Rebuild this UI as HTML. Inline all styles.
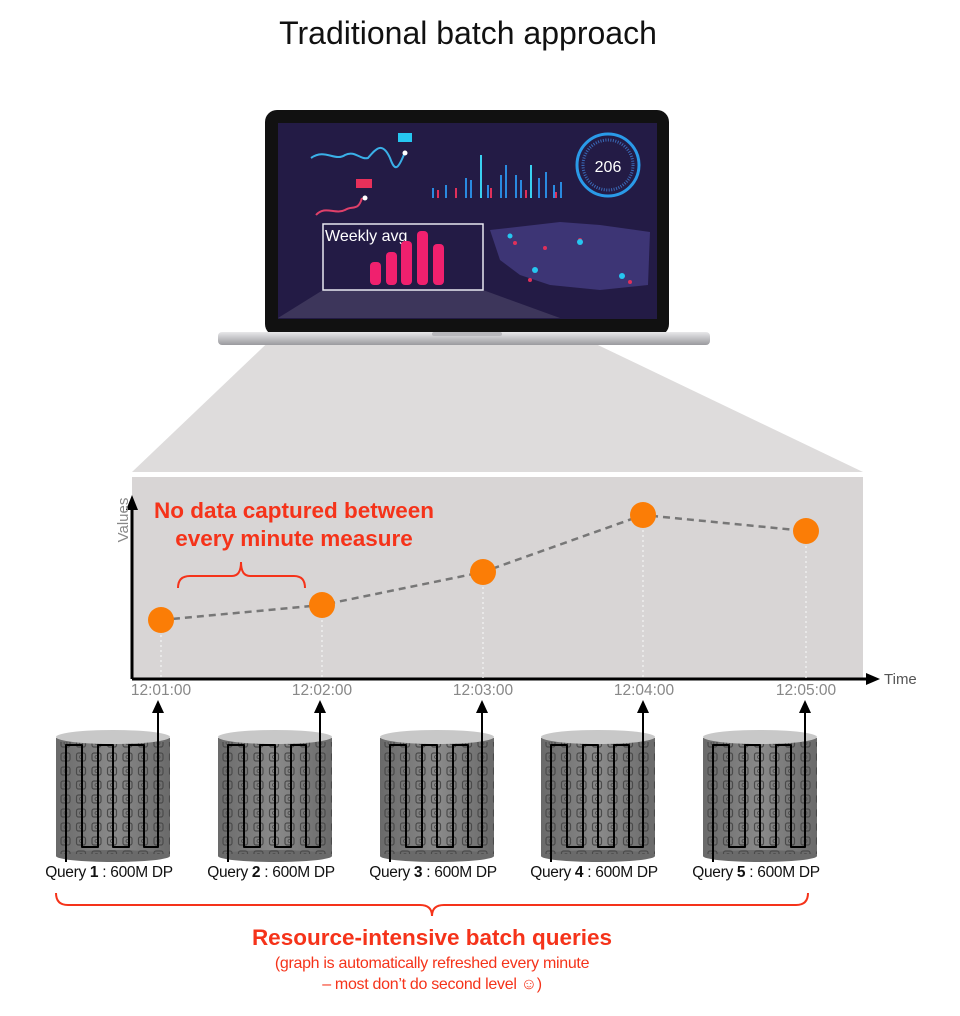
<!DOCTYPE html>
<html><head><meta charset="utf-8"><style>
html,body{margin:0;padding:0;background:#fff;}
svg{display:block;font-family:"Liberation Sans",Arial,sans-serif;}
</style></head><body>
<svg width="960" height="1016" viewBox="0 0 960 1016" xmlns="http://www.w3.org/2000/svg">
<defs>
<linearGradient id="cyl" x1="0" x2="1" y1="0" y2="0">
<stop offset="0" stop-color="#6a6a6a"/><stop offset="0.5" stop-color="#8a8a8a"/><stop offset="1" stop-color="#6a6a6a"/>
</linearGradient>
<linearGradient id="base" x1="0" x2="0" y1="0" y2="1">
<stop offset="0" stop-color="#e8e8ea"/><stop offset="1" stop-color="#9a9a9e"/>
</linearGradient>
<pattern id="dots" width="15.5" height="14" patternUnits="userSpaceOnUse" x="58" y="750">
<rect x="3" y="3" width="9" height="8" rx="2" fill="none" stroke="#4a4a4a" stroke-width="1.2"/>
<circle cx="7.5" cy="7" r="1.5" fill="none" stroke="#4a4a4a" stroke-width="0.8"/>
</pattern>
</defs>
<text x="468" y="44" font-size="32" text-anchor="middle" fill="#111">Traditional batch approach</text>

<polygon points="323,290 483,290 863,472 132,472" fill="#dedcdc"/>

<rect x="265" y="110" width="404" height="226" rx="12" fill="#111"/>
<rect x="278" y="123" width="379" height="196" fill="#231b45"/>
<rect x="218" y="332" width="492" height="13" rx="4" fill="url(#base)"/>
<rect x="432" y="332" width="70" height="4" rx="2" fill="#b8b8bc"/>
<path d="M311,158 C325,148 335,162 345,155 C355,150 360,160 368,158 C375,150 382,140 390,158 C395,172 398,170 405,152" stroke="#3ab0e8" stroke-width="2" fill="none"/>
<rect x="398" y="133" width="14" height="9" fill="#26c6f0"/>
<circle cx="405" cy="153" r="2.5" fill="#fff"/>
<path d="M316,215 C325,205 335,215 345,210 C352,205 358,212 362,198" stroke="#e0406a" stroke-width="2" fill="none"/>
<rect x="356" y="179" width="16" height="9" fill="#e8305a"/>
<circle cx="365" cy="198" r="2.5" fill="#fff"/>
<g fill="#2a8ae0">
<rect x="432" y="188" width="2" height="10"/><rect x="445" y="185" width="2" height="13"/><rect x="465" y="178" width="2" height="20"/><rect x="470" y="180" width="2" height="18"/><rect x="480" y="155" width="2" height="43" fill="#3ad0f0"/><rect x="487" y="185" width="2" height="13"/><rect x="500" y="175" width="2" height="23"/><rect x="505" y="165" width="2" height="33"/><rect x="515" y="175" width="2" height="23"/><rect x="520" y="180" width="2" height="18"/><rect x="530" y="165" width="2" height="33" fill="#3ad0f0"/><rect x="538" y="178" width="2" height="20"/><rect x="545" y="172" width="2" height="26"/><rect x="553" y="185" width="2" height="13"/><rect x="560" y="182" width="2" height="16"/>
</g>
<g fill="#e0305a"><rect x="437" y="190" width="2" height="8"/><rect x="455" y="188" width="2" height="10"/><rect x="490" y="188" width="2" height="10"/><rect x="525" y="190" width="2" height="8"/><rect x="555" y="192" width="2" height="6"/></g>
<circle cx="608" cy="165" r="31" fill="none" stroke="#2a9ae8" stroke-width="3"/>
<circle cx="608" cy="165" r="25" fill="none" stroke="#3a6ab8" stroke-width="3" stroke-dasharray="1 1.5"/>
<text x="608" y="172" font-size="16" text-anchor="middle" fill="#fff">206</text>
<path d="M490,230 L560,222 L600,225 L650,232 L648,285 L600,290 L550,285 L520,275 L500,260 Z" fill="#3d3575"/>
<g fill="#e0305a"><circle cx="515" cy="243" r="2"/><circle cx="545" cy="248" r="2"/><circle cx="580" cy="240" r="2"/><circle cx="630" cy="282" r="2"/><circle cx="530" cy="280" r="2"/></g>
<g fill="#26c6f0"><circle cx="510" cy="236" r="2.5"/><circle cx="580" cy="242" r="3"/><circle cx="535" cy="270" r="3"/><circle cx="622" cy="276" r="3"/></g>
<rect x="323" y="224" width="160" height="66" fill="#231b45" stroke="#e8e8f0" stroke-width="1.5"/>
<text x="325" y="241" font-size="16" fill="#fff">Weekly avg</text>
<g fill="#f0206e"><rect x="370" y="262" width="11" height="23" rx="4"/><rect x="386" y="252" width="11" height="33" rx="4"/><rect x="401" y="241" width="11" height="44" rx="4"/><rect x="417" y="231" width="11" height="54" rx="4"/><rect x="433" y="244" width="11" height="41" rx="4"/></g>
<polygon points="323,290 483,290 560,318 278,318" fill="#fff" opacity="0.12"/>

<rect x="132" y="477" width="731" height="202" fill="#d8d5d5"/>
<line x1="132" y1="679" x2="870" y2="679" stroke="#000" stroke-width="3"/>
<polygon points="866,673 880,679 866,685" fill="#000"/>
<line x1="132" y1="679" x2="132" y2="505" stroke="#000" stroke-width="3"/>
<polygon points="126,510 132,495 138,510" fill="#000"/>
<text x="128" y="520" font-size="15" fill="#888" transform="rotate(-90 128 520)" text-anchor="middle">Values</text>
<text x="884" y="684" font-size="15" fill="#555">Time</text>
<g stroke="#f4f4f4" stroke-width="1.2" stroke-dasharray="2 3">
<line x1="161" y1="620" x2="161" y2="678"/><line x1="322" y1="605" x2="322" y2="678"/><line x1="483" y1="572" x2="483" y2="678"/><line x1="643" y1="515" x2="643" y2="678"/><line x1="806" y1="531" x2="806" y2="678"/>
</g>
<polyline points="161,620 322,605 483,572 643,515 806,531" fill="none" stroke="#777" stroke-width="2.5" stroke-dasharray="7 5"/>
<g fill="#fb7d06"><circle cx="161" cy="620" r="13"/><circle cx="322" cy="605" r="13"/><circle cx="483" cy="572" r="13"/><circle cx="643" cy="515" r="13"/><circle cx="806" cy="531" r="13"/></g>
<text x="294" y="518" font-size="22.5" font-weight="bold" fill="#f5331a" text-anchor="middle">No data captured between</text>
<text x="294" y="546" font-size="22.5" font-weight="bold" fill="#f5331a" text-anchor="middle">every minute measure</text>
<path d="M178,588 Q178,576 190,576 L232,576 Q241,576 241,562 Q241,576 250,576 L294,576 Q305,576 305,588" fill="none" stroke="#f5331a" stroke-width="2"/>
<g font-size="15.5" fill="#888" text-anchor="middle">
<text x="161" y="695">12:01:00</text><text x="322" y="695">12:02:00</text><text x="483" y="695">12:03:00</text><text x="644" y="695">12:04:00</text><text x="806" y="695">12:05:00</text>
</g>

<g id="c1">
<rect x="56" y="738" width="114" height="118" fill="url(#cyl)"/>
<ellipse cx="113" cy="856" rx="57" ry="6" fill="#6a6a6a"/>
<rect x="56" y="742" width="114" height="112" fill="url(#dots)"/>
<ellipse cx="113" cy="737" rx="57" ry="7" fill="#c8c8c8"/>
<path d="M66,862 L66,745 L82,745 L82,847 L98,847 L98,745 L113,745 L113,847 L129,847 L129,745 L144,745 L144,847 L158,847 L158,712" fill="none" stroke="#000" stroke-width="2" stroke-linejoin="round"/>
<polygon points="152,713 158,700 164,713" fill="#000"/>
</g>
<use href="#c1" x="162"/>
<use href="#c1" x="324"/>
<use href="#c1" x="485"/>
<use href="#c1" x="647"/>
<g font-size="15.5" fill="#111" text-anchor="middle" letter-spacing="-0.3">
<text x="109" y="877">Query <tspan font-weight="bold">1</tspan> : 600M DP</text>
<text x="271" y="877">Query <tspan font-weight="bold">2</tspan> : 600M DP</text>
<text x="433" y="877">Query <tspan font-weight="bold">3</tspan> : 600M DP</text>
<text x="594" y="877">Query <tspan font-weight="bold">4</tspan> : 600M DP</text>
<text x="756" y="877">Query <tspan font-weight="bold">5</tspan> : 600M DP</text>
</g>
<path d="M56,893 Q56,905 68,905 L420,905 Q432,905 432,916 Q432,905 444,905 L796,905 Q808,905 808,893" fill="none" stroke="#f5331a" stroke-width="2"/>
<text x="432" y="945" font-size="22.5" font-weight="bold" fill="#f5331a" text-anchor="middle">Resource-intensive batch queries</text>
<text x="432" y="968" font-size="16" fill="#f5331a" text-anchor="middle" letter-spacing="-0.3">(graph is automatically refreshed every minute</text>
<text x="432" y="989" font-size="16" fill="#f5331a" text-anchor="middle" letter-spacing="-0.3">– most don’t do second level ☺)</text>
</svg>
</body></html>
